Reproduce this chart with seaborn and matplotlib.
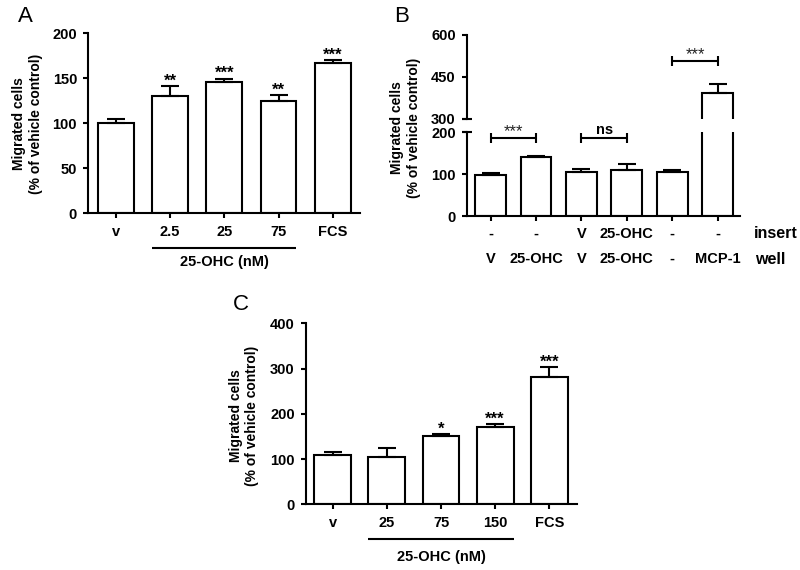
import matplotlib
matplotlib.use('Agg')
import matplotlib.pyplot as plt
import matplotlib.transforms as mtransforms
import seaborn as sns
import pandas as pd
import numpy as np

# ---------------- data ----------------
a_labels = ['v', '2.5', '25', '75', 'FCS']
a_means = [100, 130, 146, 125, 167]
a_errs = [5, 11, 3.5, 6, 3]
a_stars = ['', '**', '***', '**', '***']
a_yticks = [0, 50, 100, 150, 200]
a_group = '25-OHC (nM)'

b_insert = ['-', '-', 'V', '25-OHC', '-', '-']
b_well = ['V', '25-OHC', 'V', '25-OHC', '-', 'MCP-1']
b_means = [99, 141, 104, 109, 106, 393]
b_errs = [3, 3, 8, 16, 5, 33]
b_low_yticks = [0, 100, 200]
b_high_yticks = [300, 450, 600]
b_pairs = [(0, 1), (2, 3), (4, 5)]
b_pair_levels = [186, 186, 507]
b_pair_texts = ['***', 'ns', '***']

c_labels = ['v', '25', '75', '150', 'FCS']
c_means = [109, 104, 151, 170, 282]
c_errs = [6, 20, 4, 7, 21]
c_stars = ['', '', '*', '***', '***']
c_yticks = [0, 100, 200, 300, 400]
c_group = '25-OHC (nM)'

ylabel_text = 'Migrated cells\n(% of vehicle control)'

# ---------------- style ----------------
sns.set_theme(style='ticks')
plt.rcParams['font.family'] = ['Liberation Sans', 'DejaVu Sans']
plt.rcParams.update({
    'font.weight': 'bold', 'axes.labelweight': 'bold',
    'text.color': 'black', 'axes.labelcolor': 'black',
    'xtick.color': 'black', 'ytick.color': 'black', 'axes.edgecolor': 'black',
    'axes.linewidth': 1.5, 'xtick.major.width': 1.5, 'ytick.major.width': 1.5,
    'xtick.major.size': 3.6, 'ytick.major.size': 3.6,
    'xtick.labelsize': 10.5, 'ytick.labelsize': 10.5,
    'xtick.major.pad': 5.0, 'ytick.major.pad': 4.5,
})

LW = 1.5
FS = 10.5


def draw_bars(ax, cats, means, errs, width):
    df = pd.DataFrame({'cat': cats, 'val': means})
    sns.barplot(data=df, x='cat', y='val', order=cats, color='white', saturation=1,
                edgecolor='black', linewidth=LW, width=width, errorbar=None, ax=ax, zorder=2)
    pos = np.arange(len(cats))
    ax.errorbar(pos, means, yerr=[np.zeros(len(errs)), errs], fmt='none', ecolor='black',
                elinewidth=LW, capsize=6.5, capthick=LW, zorder=3)
    ax.set_xlabel('')
    ax.set_ylabel('')


def draw_stars(ax, means, errs, stars):
    for i, (m, e, s) in enumerate(zip(means, errs, stars)):
        if s:
            ax.annotate(s, (i, m + e), xytext=(0, 0.5), textcoords='offset points',
                        ha='center', va='baseline', fontsize=12, fontweight='bold',
                        annotation_clip=False)


def draw_group(ax, first, last, width, text, yline, ytext):
    trans = mtransforms.blended_transform_factory(ax.transData, ax.transAxes)
    ax.plot([first - width / 2, last + width / 2], [yline, yline], color='black', lw=LW,
            transform=trans, clip_on=False, solid_capstyle='butt')
    ax.text((first + last) / 2, ytext, text, transform=trans, ha='center', va='center',
            fontsize=FS, fontweight='bold')


fig = plt.figure(figsize=(8, 5.7), dpi=100)

# ---------------- Panel A ----------------
axA = fig.add_axes([0.1104, 0.6258, 0.3396, 0.3158])
draw_bars(axA, a_labels, a_means, a_errs, 0.66)
draw_stars(axA, a_means, a_errs, a_stars)
axA.set_ylim(0, 200)
axA.set_yticks(a_yticks)
axA.set_xlim(-0.511, 4.504)
sns.despine(ax=axA)
draw_group(axA, 1, 3, 0.66, a_group, -0.191, -0.269)
fig.text(27.5 / 800, 1 - 124 / 570, ylabel_text, rotation=90, ha='center', va='center',
         fontsize=10, fontweight='bold', multialignment='center')
fig.text(25 / 800, 1 - 17 / 570, 'A', fontsize=16, fontweight='normal', ha='center', va='center')

# ---------------- Panel B ----------------
b_cats = [str(i) for i in range(len(b_means))]
axB_hi = fig.add_axes([0.58375, 0.79123, 0.34125, 0.1474])
axB_lo = fig.add_axes([0.58375, 0.62105, 0.34125, 0.1468])
for ax_ in (axB_hi, axB_lo):
    draw_bars(ax_, b_cats, b_means, b_errs, 0.68)
    ax_.set_xlim(-0.52, 5.49)
axB_hi.set_ylim(300, 600)
axB_hi.set_yticks(b_high_yticks)
axB_lo.set_ylim(0, 200)
axB_lo.set_yticks(b_low_yticks)
sns.despine(ax=axB_lo)
sns.despine(ax=axB_hi, bottom=True)
axB_hi.tick_params(axis='x', bottom=False, labelbottom=False)
axB_lo.set_xticks(range(len(b_means)))
axB_lo.set_xticklabels([''] * len(b_means))
for ax_, yy in ((axB_hi, 0), (axB_lo, 1)):
    ax_.plot([0], [yy], marker='_', markersize=6.5, mew=LW, color='black',
             transform=ax_.transAxes, clip_on=False)

for (i0, i1), lvl, txt in zip(b_pairs, b_pair_levels, b_pair_texts):
    ax_ = axB_hi if lvl >= 300 else axB_lo
    ax_.plot([i0, i1], [lvl, lvl], color='black', lw=LW, marker='|', markersize=7.2,
             mew=LW, clip_on=False)
    is_star = '*' in txt
    ax_.annotate(txt, ((i0 + i1) / 2, lvl), xytext=(0, 1.5 if is_star else 3.0),
                 textcoords='offset points', ha='center', va='baseline',
                 fontsize=12 if is_star else FS,
                 fontweight='normal' if is_star else 'bold',
                 color='#222222' if is_star else 'black',
                 annotation_clip=False)

transB = mtransforms.blended_transform_factory(axB_lo.transData, axB_lo.transAxes)
for i, (ins, wel) in enumerate(zip(b_insert, b_well)):
    axB_lo.text(i, -0.215, ins, transform=transB, ha='center', va='center', fontsize=FS)
    axB_lo.text(i, -0.514, wel, transform=transB, ha='center', va='center', fontsize=FS)
fig.text(754 / 800, 1 - 234 / 570, 'insert', ha='left', va='center', fontsize=11.5)
fig.text(755 / 800, 1 - 259 / 570, 'well', ha='left', va='center', fontsize=11.5)
fig.text(405.5 / 800, 1 - 128 / 570, ylabel_text, rotation=90, ha='center', va='center',
         fontsize=10, fontweight='bold', multialignment='center')
fig.text(402 / 800, 1 - 17 / 570, 'B', fontsize=16, fontweight='normal', ha='center', va='center')

# ---------------- Panel C ----------------
axC = fig.add_axes([0.3825, 0.1153, 0.3384, 0.3175])
draw_bars(axC, c_labels, c_means, c_errs, 0.68)
draw_stars(axC, c_means, c_errs, c_stars)
axC.set_ylim(0, 400)
axC.set_yticks(c_yticks)
axC.set_xlim(-0.493, 4.506)
sns.despine(ax=axC)
draw_group(axC, 1, 3, 0.68, c_group, -0.192, -0.29)
fig.text(244 / 800, 1 - 416 / 570, ylabel_text, rotation=90, ha='center', va='center',
         fontsize=10, fontweight='bold', multialignment='center')
fig.text(241 / 800, 1 - 305 / 570, 'C', fontsize=16, fontweight='normal', ha='center', va='center')

fig.savefig('out.png', dpi=100)
